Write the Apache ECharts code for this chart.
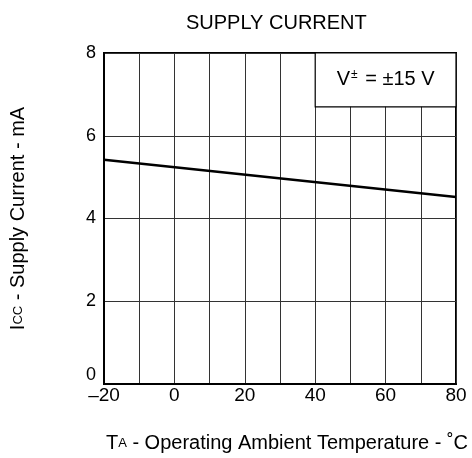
<!DOCTYPE html>
<html><head><meta charset="utf-8">
<script src="https://cdn.jsdelivr.net/npm/echarts@6/dist/echarts.min.js"></script>
<style>html,body{margin:0;padding:0;background:#fff}#c{width:472px;height:458px}</style>
</head><body><div id="c"></div>
<script>
const temps = [-20, 80];
const supplyCurrent = [5.42, 4.52];
const legendBox = [[40, 6.7], [80, 8]];
const xTicks = [-20, 0, 20, 40, 60, 80];

const chart = echarts.init(document.getElementById('c'));
const font = 'Liberation Sans, Arial, sans-serif';
chart.setOption({
  animation: false,
  backgroundColor: '#fff',
  title: {text: 'SUPPLY CURRENT', left: 181, top: 8,
    textStyle: {fontFamily: font, fontSize: 20, fontWeight: 'normal', color: '#000', lineHeight: 20}},
  grid: {left: 102, right: 16, top: 53, bottom: 74, show: true, borderColor: '#000', borderWidth: 2, backgroundColor: 'transparent'},
  xAxis: {type: 'value', min: -20, max: 80, interval: 10,
    axisLine: {show: true, onZero: false, lineStyle: {color: '#000', width: 2}},
    axisTick: {show: false},
    splitLine: {show: true, lineStyle: {color: '#333', width: 1}},
    axisLabel: {margin: 2, fontFamily: font, fontSize: 19, color: '#000',
      formatter: v => xTicks.includes(v) ? (v < 0 ? '\u2013' + Math.abs(v) : String(v)) : ''},
    name: '{b|T}{s|A}{b| - Operating Ambient Temperature - ˚C}', nameLocation: 'middle', nameGap: 49,
    nameTextStyle: {padding: [0, 0, 0, 14], rich: {b: {fontFamily: font, fontSize: 20, lineHeight: 20, color: '#000'}, s: {fontFamily: font, fontSize: 13, lineHeight: 20, color: '#000'}}}
  },
  yAxis: {type: 'value', min: 0, max: 8, interval: 2,
    axisLine: {show: true, onZero: false, lineStyle: {color: '#000', width: 2}},
    axisTick: {show: false},
    splitLine: {show: true, lineStyle: {color: '#333', width: 1}},
    axisLabel: {margin: 8, fontFamily: font, fontSize: 18, color: '#000',
      formatter: v => v === 0 ? '{z|0}' : String(v),
      rich: {z: {fontFamily: font, fontSize: 18, color: '#000', padding: [0, 0, 18, 0]}}},
    name: '{b|I}{s|CC}{b| - Supply Current - mA}', nameLocation: 'middle', nameGap: 76, nameRotate: 90,
    nameTextStyle: {rich: {b: {fontFamily: font, fontSize: 20, lineHeight: 20, color: '#000'}, s: {fontFamily: font, fontSize: 13, lineHeight: 20, color: '#000'}}}
  },
  series: [{
    type: 'line', data: temps.map((t, i) => [t, supplyCurrent[i]]),
    showSymbol: false, lineStyle: {color: '#000', width: 2.5}, z: 3,
    markArea: {silent: true, z: 4,
      itemStyle: {color: '#fff', borderColor: '#000', borderWidth: 1.2, opacity: 1},
      label: {show: true, position: 'inside', formatter: '{n|V}{p|±}{n| = ±15 V}',
        rich: {n: {fontFamily: font, fontSize: 20, color: '#000'}, p: {fontFamily: font, fontSize: 12, color: '#000', verticalAlign: 'top', padding: [0, 2, 10, 1]}}},
      data: [[{coord: legendBox[0]}, {coord: legendBox[1]}]]
    }
  }]
});
</script></body></html>
